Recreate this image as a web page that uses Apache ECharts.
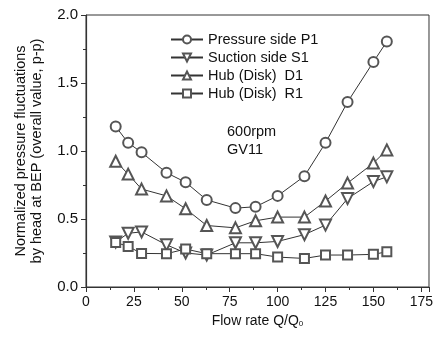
<!DOCTYPE html>
<html>
<head>
<meta charset="utf-8">
<script src="https://cdn.jsdelivr.net/npm/echarts@6/dist/echarts.min.js"></script>
<style>html,body{margin:0;padding:0;background:#fff}#c{width:436px;height:340px}</style>
</head>
<body>
<div id="c"></div>
<script>
const flowRate = [15.5, 22, 29, 42, 52, 63, 78, 88.5, 100, 114, 125, 136.5, 150, 157];
const pressureP1 = [1.18, 1.06, 0.99, 0.84, 0.77, 0.64, 0.58, 0.59, 0.67, 0.815, 1.06, 1.36, 1.655, 1.805];
const suctionS1 = [0.33, 0.395, 0.405, 0.31, 0.25, 0.235, 0.325, 0.325, 0.335, 0.385, 0.455, 0.65, 0.775, 0.81];
const hubD1 = [0.925, 0.83, 0.72, 0.67, 0.575, 0.452, 0.435, 0.487, 0.514, 0.514, 0.632, 0.764, 0.911, 1.008];
const hubR1 = [0.328, 0.298, 0.247, 0.245, 0.279, 0.245, 0.245, 0.245, 0.22, 0.21, 0.235, 0.235, 0.24, 0.259];
const seriesNames = ['Pressure side P1', 'Suction side S1', 'Hub (Disk)  D1', 'Hub (Disk)  R1'];
const xTicks = [0, 25, 50, 75, 100, 125, 150, 175];
const yTicks = [0.0, 0.5, 1.0, 1.5, 2.0];

const FONT = 'Liberation Sans, Arial, sans-serif';
const LINE = '#333';
const MARK = '#555';
function pairs(ys) { return flowRate.map((x, i) => [x, ys[i]]); }
function mk(name, ys, symbol, size, rot) {
  return {
    name, type: 'line', data: pairs(ys), symbol, symbolSize: size, symbolRotate: rot || 0,
    lineStyle: { color: LINE, width: 1 },
    itemStyle: { color: MARK, borderColor: MARK, borderWidth: 1 },
    showAllSymbol: true, animation: false, z: 3
  };
}
const chart = echarts.init(document.getElementById('c'), null, { renderer: 'canvas' });
chart.setOption({
  animation: false,
  textStyle: { fontFamily: FONT },
  grid: { left: 86, top: 15, right: 3, bottom: 53, show: true, borderColor: LINE, borderWidth: 1, containLabel: false },
  legend: {
    orient: 'vertical', left: 170, top: 32, padding: 0, itemWidth: 32, itemHeight: 10, itemGap: 3,
    data: seriesNames, textStyle: { fontSize: 14.5, color: '#111', fontFamily: FONT }, selectedMode: false
  },
  xAxis: {
    type: 'value', min: 0, max: 179, interval: 25,
    axisLine: { show: true, lineStyle: { color: LINE, width: 1.2 } },
    axisTick: { show: true, inside: false, length: 5, lineStyle: { color: LINE } },
    minorTick: { show: true, splitNumber: 2, length: 3, lineStyle: { color: LINE } },
    splitLine: { show: false },
    axisLabel: { fontSize: 14, color: '#111', margin: 8, showMaxLabel: false,
      formatter: v => xTicks.includes(v) ? String(v) : '' },
    name: '{a|Flow rate Q/Q}{s|0}', nameLocation: 'middle', nameGap: 27,
    nameTextStyle: { rich: { a: { fontSize: 14, color: '#111', fontFamily: FONT }, s: { fontSize: 8, color: '#111', verticalAlign: 'bottom', padding: [6, 0, 0, 0], fontFamily: FONT } } }
  },
  yAxis: {
    type: 'value', min: 0, max: 2, interval: 0.5,
    axisLine: { show: true, lineStyle: { color: LINE, width: 1.2 } },
    axisTick: { show: true, inside: false, length: 5, lineStyle: { color: LINE } },
    minorTick: { show: true, splitNumber: 2, length: 3, lineStyle: { color: LINE } },
    splitLine: { show: false },
    axisLabel: { fontSize: 15, color: '#111', margin: 8, formatter: v => v.toFixed(1) },
    name: 'Normalized pressure fluctuations\nby head at BEP (overall value, p-p)',
    nameLocation: 'middle', nameGap: 41,
    nameTextStyle: { fontSize: 14.5, color: '#111', lineHeight: 16, fontFamily: FONT }
  },
  graphic: [
    { type: 'text', left: 227, top: 124, style: { text: '600rpm', font: '14.5px ' + FONT, fill: '#111' } },
    { type: 'text', left: 227, top: 142, style: { text: 'GV11', font: '14.5px ' + FONT, fill: '#111' } }
  ],
  series: [
    mk(seriesNames[0], pressureP1, 'emptyCircle', 10),
    mk(seriesNames[1], suctionS1, 'emptyTriangle', 11, 180),
    mk(seriesNames[2], hubD1, 'emptyTriangle', 11),
    mk(seriesNames[3], hubR1, 'emptyRect', 9)
  ]
});
</script>
</body>
</html>
